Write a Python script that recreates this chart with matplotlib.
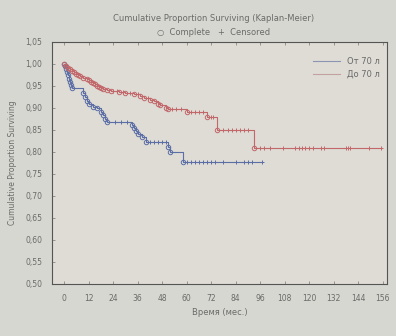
import numpy as np
import matplotlib.pyplot as plt

# Kaplan-Meier estimates, two age groups (months, survival after each event)
old_times = [0.5, 1, 1.5, 2, 2.5, 3, 3.5, 4, 9, 10, 11, 12, 14, 16, 18, 19, 20, 21,
             33, 34, 35, 36, 38, 40, 51, 52, 58]
old_surv = [0.995, 0.988, 0.981, 0.974, 0.967, 0.960, 0.953, 0.946, 0.935, 0.924,
            0.915, 0.908, 0.903, 0.899, 0.890, 0.883, 0.876, 0.868, 0.862, 0.855,
            0.848, 0.841, 0.835, 0.823, 0.812, 0.801, 0.777]
old_censored = [25, 28, 31, 42, 44, 46, 48, 50, 60, 62, 64, 66, 68, 70, 72, 74, 78,
                84, 88, 90, 92, 97]
old_end = 97

young_times = [1, 2, 3, 4, 5, 6, 7, 8, 9, 11, 12, 13, 14, 15, 16, 17, 18, 19, 21, 23,
               27, 30, 34, 37, 39, 42, 44, 46, 47, 50, 51, 60, 70, 75, 93]
young_surv = [0.996, 0.992, 0.988, 0.984, 0.981, 0.978, 0.975, 0.972, 0.969, 0.966,
              0.963, 0.960, 0.957, 0.954, 0.951, 0.948, 0.945, 0.943, 0.940, 0.938,
              0.936, 0.934, 0.931, 0.927, 0.923, 0.919, 0.915, 0.910, 0.906, 0.901,
              0.897, 0.890, 0.880, 0.850, 0.810]
young_censored = [24, 26, 29, 32, 36, 41, 53, 55, 57, 62, 64, 66, 68, 72, 73, 78, 80,
                  82, 84, 86, 88, 90, 96, 98, 101, 107, 113, 115, 116.5, 118, 120,
                  122, 125.5, 127, 138, 139, 140, 149, 155]
young_end = 155

group_labels = ['От 70 л', 'До 70 л']
x_ticks = list(range(0, 157, 12))
y_ticks = [0.50, 0.55, 0.60, 0.65, 0.70, 0.75, 0.80, 0.85, 0.90, 0.95, 1.00, 1.05]

blue = '#5b6ea6'
red = '#c2676a'
txt = '#6a6a6a'

fig = plt.figure(figsize=(3.96, 3.36), dpi=100, facecolor='#d7d7d1')
ax = fig.add_axes([0.131, 0.155, 0.846, 0.72], facecolor='#dedcd5')


def km_curve(ax, times, surv, cens, end, color):
    xs = np.r_[0, times, end]
    ys = np.r_[1.0, surv, surv[-1]]
    ax.plot(xs, ys, drawstyle='steps-post', color=color, lw=0.8)
    ax.plot(np.r_[0, times], np.r_[1.0, surv], 'o', mfc='none', mec=color,
            ms=3.2, mew=0.7)
    idx = np.searchsorted(times, cens, side='right')
    levels = np.r_[1.0, surv][idx]
    ax.plot(cens, levels, '+', color=color, ms=3.5, mew=0.7)


km_curve(ax, old_times, old_surv, old_censored, old_end, blue)
km_curve(ax, young_times, young_surv, young_censored, young_end, red)

ax.set_xlim(-6, 158)
ax.set_ylim(0.50, 1.05)
ax.set_xticks(x_ticks)
ax.set_yticks(y_ticks)
ax.set_xticklabels([str(t) for t in x_ticks])
ax.set_yticklabels([f'{v:.2f}'.replace('.', ',') for v in y_ticks])
ax.tick_params(direction='in', length=2, width=0.5, labelsize=5.5,
               labelcolor=txt, color='#777777', top=True, right=False, pad=7)
for s in ax.spines.values():
    s.set_color('#555555')
    s.set_linewidth(0.8)

ax.set_xlabel('Время (мес.)', fontsize=6, color=txt, labelpad=4)
ax.set_ylabel('Cumulative Proportion Surviving', fontsize=5.5, color=txt,
              labelpad=6)

handles = [plt.Line2D([], [], color='#8c94b4', lw=0.8),
           plt.Line2D([], [], color='#c4a0a0', lw=0.8)]
ax.legend(handles, group_labels, loc='upper right', frameon=False,
          fontsize=6, labelcolor=txt, handlelength=3.2,
          bbox_to_anchor=(1.0, 0.97))

fig.text(0.54, 0.946, 'Cumulative Proportion Surviving (Kaplan-Meier)',
         ha='center', va='center', fontsize=6, color=txt)
fig.text(0.54, 0.902, '○  Complete   +  Censored', ha='center', va='center',
         fontsize=6, color=txt)

fig.savefig('out.png', dpi=100, facecolor=fig.get_facecolor())
